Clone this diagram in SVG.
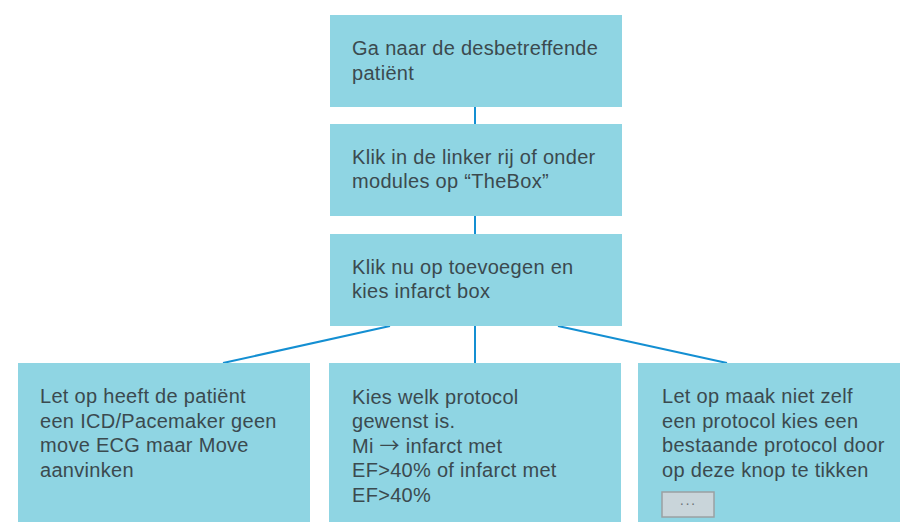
<svg xmlns="http://www.w3.org/2000/svg" width="900" height="522" viewBox="0 0 900 522">
<style>
.box{fill:#8fd5e3}
.t{font-family:"Liberation Sans",Arial,sans-serif;font-size:20px;letter-spacing:0.3px;fill:#3b4a4f}
.a{font-family:"Noto Sans CJK SC",sans-serif;font-size:20px}
.c{stroke:#148fd2;stroke-width:2;fill:none}
</style>
<rect width="900" height="522" fill="#ffffff"/>
<g id="connectors">
<line class="c" x1="475" y1="100" x2="475" y2="370"/>
<line class="c" x1="390" y1="326" x2="223" y2="363"/>
<line class="c" x1="558" y1="326" x2="727" y2="363"/>
</g>
<g id="n1">
<rect class="box" x="330" y="15" width="292" height="92"/>
<text class="t" x="352" y="55">Ga naar de desbetreffende</text>
<text class="t" x="352" y="80">patiënt</text>
</g>
<g id="n2">
<rect class="box" x="330" y="124" width="292" height="92"/>
<text class="t" x="352" y="164">Klik in de linker rij of onder</text>
<text class="t" x="352" y="188">modules op “TheBox”</text>
</g>
<g id="n3">
<rect class="box" x="330" y="234" width="292" height="92"/>
<text class="t" x="352" y="274">Klik nu op toevoegen en</text>
<text class="t" x="352" y="298">kies infarct box</text>
</g>
<g id="n4">
<rect class="box" x="18" y="363" width="292" height="170"/>
<text class="t" x="40" y="403">Let op heeft de patiënt</text>
<text class="t" x="40" y="428">een ICD/Pacemaker geen</text>
<text class="t" x="40" y="452">move ECG maar Move</text>
<text class="t" x="40" y="477">aanvinken</text>
</g>
<g id="n5">
<rect class="box" x="329" y="363" width="292" height="170"/>
<text class="t" x="352" y="404">Kies welk protocol</text>
<text class="t" x="352" y="428">gewenst is.</text>
<text class="t" x="352" y="453">Mi <tspan class="a">→</tspan> infarct met</text>
<text class="t" x="352" y="477">EF&gt;40% of infarct met</text>
<text class="t" x="352" y="502">EF&gt;40%</text>
</g>
<g id="n6">
<rect class="box" x="638" y="363" width="292" height="170"/>
<text class="t" x="662" y="403">Let op maak niet zelf</text>
<text class="t" x="662" y="428">een protocol kies een</text>
<text class="t" x="662" y="452">bestaande protocol door</text>
<text class="t" x="662" y="477">op deze knop te tikken</text>
<rect x="662" y="492" width="52" height="25" fill="#c9d5da" stroke="#9aa0a3" stroke-width="1.5"/>
<text x="688" y="508" text-anchor="middle" font-family="Liberation Sans,Arial,sans-serif" font-size="14" letter-spacing="1" fill="#6d7478">···</text>
</g>
</svg>
